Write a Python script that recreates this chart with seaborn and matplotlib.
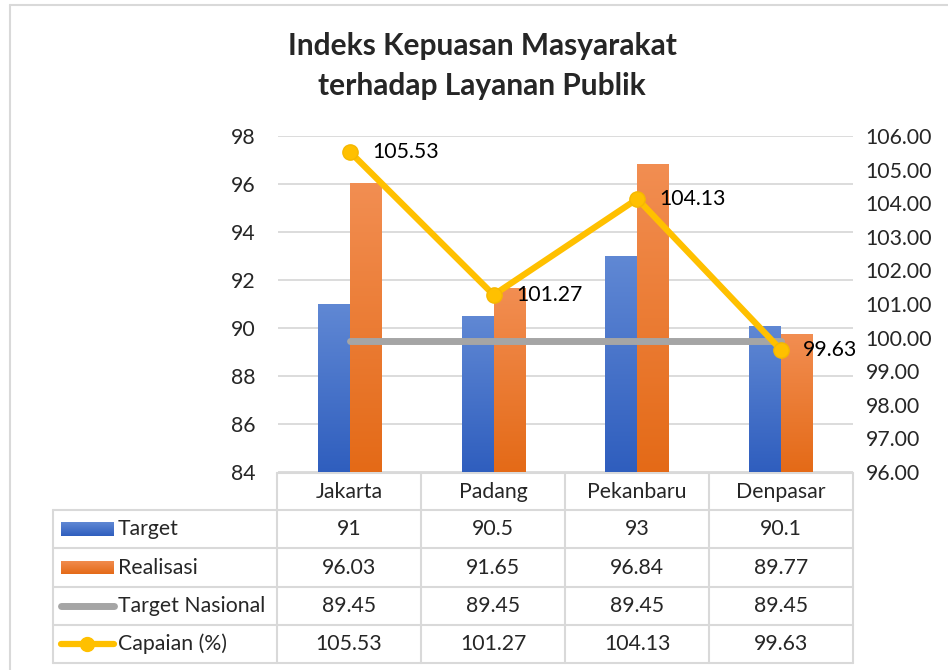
import numpy as np
import pandas as pd
import seaborn as sns
import matplotlib.pyplot as plt
from matplotlib.colors import LinearSegmentedColormap
from matplotlib.patches import Rectangle

# data
kota = ["Jakarta", "Padang", "Pekanbaru", "Denpasar"]
target = [91, 90.5, 93, 90.1]
realisasi = [96.03, 91.65, 96.84, 89.77]
target_nasional = [89.45, 89.45, 89.45, 89.45]
capaian = [105.53, 101.27, 104.13, 99.63]

target_lbl = ["91", "90.5", "93", "90.1"]
realisasi_lbl = ["96.03", "91.65", "96.84", "89.77"]
nasional_lbl = ["89.45", "89.45", "89.45", "89.45"]
capaian_lbl = ["105.53", "101.27", "104.13", "99.63"]

series = ["Target", "Realisasi", "Target Nasional", "Capaian (%)"]
title = "Indeks Kepuasan Masyarakat\nterhadap Layanan Publik"

blue_top, blue_bot = "#6088D4", "#2F5EBE"
orange_top, orange_bot = "#F28E52", "#E46A17"
gray = "#A5A5A5"
yellow = "#FFC000"
grid_c = "#D9D9D9"

sns.set_style("white")
plt.rcParams["font.family"] = ["Lato", "DejaVu Sans"]
FS = 15.3

W, H = 948, 670
fig = plt.figure(figsize=(W / 100, H / 100), dpi=100)


def box(l, t, r, b):
    return [l / W, 1 - b / H, (r - l) / W, (b - t) / H]


ax = fig.add_axes(box(278, 136, 853, 472))

df = pd.DataFrame({
    "kota": kota * 2,
    "nilai": target + realisasi,
    "seri": ["Target"] * 4 + ["Realisasi"] * 4,
})
sns.barplot(data=df, x="kota", y="nilai", hue="seri", order=kota,
            hue_order=["Target", "Realisasi"], palette=[blue_bot, orange_bot],
            width=0.445, legend=False, ax=ax)

# gradient fill like the Excel bars
ymin, ymax = 84, 98
grads = {0: (blue_bot, blue_top), 1: (orange_bot, orange_top)}
g = np.linspace(0, 1, 256).reshape(-1, 1)
for i, patch in enumerate(ax.patches[:8]):
    lo, hi = grads[i // 4]
    cmap = LinearSegmentedColormap.from_list("g%d" % i, [lo, hi])
    x0, w = patch.get_x(), patch.get_width()
    top = patch.get_y() + patch.get_height()
    im = ax.imshow(g, extent=[x0, x0 + w, ymin, top], origin="lower",
                   aspect="auto", cmap=cmap, zorder=2)
    im.set_clip_path(patch)
    patch.set_facecolor("none")
    patch.set_edgecolor("none")

xs = np.arange(len(kota))
ax.plot(xs, target_nasional, color=gray, lw=5, solid_capstyle="round", zorder=3)

ax.set_xlim(-0.5, 3.5)
ax.set_ylim(ymin, ymax)
ax.set_yticks(np.arange(84, 99, 2))
ax.set_axisbelow(True)
ax.grid(axis="y", color=grid_c, lw=1.3)
ax.grid(axis="x", visible=False)
ax.tick_params(axis="y", length=0, pad=16, labelsize=FS)
ax.tick_params(axis="x", length=0, labelbottom=False)
ax.set_xlabel("")
ax.set_ylabel("")
for s in ax.spines.values():
    s.set_visible(False)

ax2 = ax.twinx()
ax2.plot(xs, capaian, color=yellow, lw=4.5, marker="o", markersize=11,
         markerfacecolor=yellow, markeredgecolor="#F5B800", zorder=5)
ax2.set_ylim(96, 106)
ax2.set_yticks(np.arange(96, 107, 1))
ax2.set_yticklabels(["%.2f" % v for v in np.arange(96, 107, 1)])
ax2.tick_params(axis="y", length=0, pad=9, labelsize=FS)
for s in ax2.spines.values():
    s.set_visible(False)
for x, v, t in zip(xs, capaian, capaian_lbl):
    ax2.annotate(t, (x, v), xytext=(16, 0), textcoords="offset points",
                 ha="left", va="center", fontsize=FS, color="black")

fig.text(482 / W, 1 - 66 / H, title, ha="center", va="center",
         fontsize=21.5, fontweight="bold", linespacing=1.5)

# data table under the plot
tb = fig.add_axes([0, 0, 1, 1], zorder=-1)
tb.axis("off")

cols = [277, 421, 565, 709, 853]
rows = [473, 510, 548, 587, 625, 663]
lw_t = 1.5
tb.plot([cols[0], cols[-1]], [rows[0], rows[0]], color=grid_c, lw=lw_t)
for y in rows[1:]:
    tb.plot([53, cols[-1]], [y, y], color=grid_c, lw=lw_t)
tb.plot([53, 53], [rows[1], rows[-1]], color=grid_c, lw=lw_t)
for x in cols:
    tb.plot([x, x], [rows[0], rows[-1]], color=grid_c, lw=lw_t)

for j, k in enumerate(kota):
    tb.text((cols[j] + cols[j + 1]) / 2, (rows[0] + rows[1]) / 2, k,
            ha="center", va="center", fontsize=FS)

table_vals = [target_lbl, realisasi_lbl, nasional_lbl, capaian_lbl]
for i, (name, vals) in enumerate(zip(series, table_vals)):
    yc = (rows[i + 1] + rows[i + 2]) / 2
    tb.text(118, yc, name, ha="left", va="center", fontsize=FS)
    for j, v in enumerate(vals):
        tb.text((cols[j] + cols[j + 1]) / 2, yc, v, ha="center", va="center",
                fontsize=FS)
    if i < 2:
        lo, hi = grads[i]
        cmap = LinearSegmentedColormap.from_list("lg%d" % i, [lo, hi])
        r = Rectangle((61, yc - 7), 53, 14, facecolor="none", edgecolor="none")
        tb.add_patch(r)
        im = tb.imshow(g, extent=[61, 114, yc + 7, yc - 7], origin="lower",
                       aspect="auto", cmap=cmap)
        im.set_clip_path(r)
    elif i == 2:
        tb.plot([61, 114], [yc, yc], color=gray, lw=5, solid_capstyle="round")
    else:
        tb.plot([61, 114], [yc, yc], color=yellow, lw=4.5, solid_capstyle="round")
        tb.plot([87.5], [yc], marker="o", markersize=10, color=yellow)

# chart frame
tb.plot([10, W], [5, 5], color=grid_c, lw=1.5)
tb.plot([10, 10], [5, H], color=grid_c, lw=1.5)
tb.set_xlim(0, W)
tb.set_ylim(H, 0)

fig.savefig("out.png", dpi=100)
